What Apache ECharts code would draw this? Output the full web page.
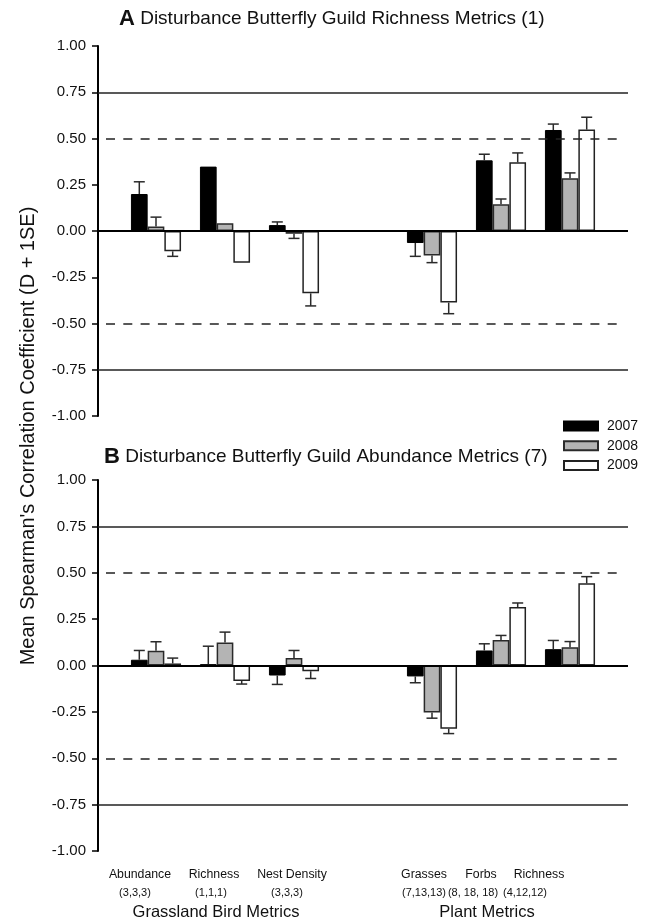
<!DOCTYPE html>
<html>
<head>
<meta charset="utf-8">
<script src="https://cdn.jsdelivr.net/npm/echarts@6/dist/echarts.min.js"></script>
<style>html,body{margin:0;padding:0;background:#fff}#c{width:647px;height:922px}</style>
</head>
<body>
<div id="c"></div>
<script>
// ---- data ----
var categories = ['Abundance\n(3,3,3)', 'Richness\n(1,1,1)', 'Nest Density\n(3,3,3)', '', 'Grasses\n(7,13,13)', 'Forbs\n(8, 18, 18)', 'Richness\n(4,12,12)'];
var groupLabels = ['', 'Grassland Bird Metrics', '', '', '', 'Plant Metrics', ''];
var years = ['2007', '2008', '2009'];
var refSolid = [0.75, -0.75];
var refDashed = [0.5, -0.5];

// Panel A: Richness metrics (mean D) and SE
var A_2007 = [0.200, 0.348, 0.032, null, -0.065, 0.382, 0.546];
var A_2008 = [0.025, 0.042, -0.015, null, -0.133, 0.144, 0.285];
var A_2009 = [-0.110, -0.171, -0.337, null, -0.387, 0.371, 0.548];
var A_2007_se = [0.066, 0, 0.017, null, 0.072, 0.033, 0.032];
var A_2008_se = [0.050, 0, 0.025, null, 0.038, 0.029, 0.029];
var A_2009_se = [0.027, 0, 0.068, null, 0.060, 0.051, 0.067];

// Panel B: Abundance metrics (mean D) and SE
var B_2007 = [0.031, 0.007, -0.054, null, -0.059, 0.081, 0.088];
var B_2008 = [0.079, 0.124, 0.040, null, -0.253, 0.137, 0.099];
var B_2009 = [0.011, -0.083, -0.031, null, -0.341, 0.315, 0.443];
var B_2007_se = [0.050, 0.097, 0.048, null, 0.034, 0.036, 0.047];
var B_2008_se = [0.049, 0.056, 0.041, null, 0.031, 0.025, 0.030];
var B_2009_se = [0.029, 0.017, 0.039, null, 0.026, 0.022, 0.036];

// ---- styling ----
var FONT = 'Liberation Sans, Arial, sans-serif';
var BAR_W = 16.7;
var DASH_END = 0.981; // dashed reference lines stop a little short of the solid ones
var barStyles = [
  {color: '#000000', borderColor: '#000000', borderWidth: 1},
  {color: '#b4b4b4', borderColor: '#2a2a2a', borderWidth: 1.5},
  {color: '#ffffff', borderColor: '#222222', borderWidth: 1.5}
];
// horizontal nudges (px, negative = left) of the hand-placed x labels
var nudgeLine1 = [-16, -11, -2, 0, -8, -20, -31];
var nudgeLine2 = [-21, -14, -7, 0, -8, -28, -45];
var nudgeGroup = [0, -9, 0, 0, 0, -14, 0];

function padFor(n) { return n < 0 ? [0, -2 * n, 0, 0] : [0, 0, 0, 2 * n]; }

var catRich = {};
categories.forEach(function (c, i) {
  catRich['a' + i] = {fontSize: 12.3, color: '#111', fontFamily: FONT, lineHeight: 18, padding: padFor(nudgeLine1[i])};
  catRich['b' + i] = {fontSize: 11, color: '#111', fontFamily: FONT, lineHeight: 18, padding: padFor(nudgeLine2[i])};
});
var grpRich = {};
groupLabels.forEach(function (c, i) {
  grpRich['g' + i] = {fontSize: 16.5, color: '#111', fontFamily: FONT, padding: padFor(nudgeGroup[i])};
});

var panels = [
  {top: 46, height: 370, vals: [A_2007, A_2008, A_2009], ses: [A_2007_se, A_2008_se, A_2009_se], labels: false},
  {top: 480, height: 371, vals: [B_2007, B_2008, B_2009], ses: [B_2007_se, B_2008_se, B_2009_se], labels: true}
];

var grid = [], xAxis = [], yAxis = [], series = [];

panels.forEach(function (p, k) {
  var gLine = grid.length;
  grid.push({left: 98, right: 19, top: p.top, height: p.height});
  var gBar = grid.length;
  grid.push({left: 121.5, width: 483, top: p.top, height: p.height});

  var xl = xAxis.length;
  xAxis.push({gridIndex: gLine, type: 'value', min: 0, max: 1, show: false});
  var yl = yAxis.length;
  yAxis.push({
    gridIndex: gLine, type: 'value', min: -1, max: 1, interval: 0.25,
    axisLine: {show: true, onZero: false, lineStyle: {color: '#000', width: 2}},
    axisTick: {show: true, inside: false, length: 6, lineStyle: {color: '#000', width: 1.5}},
    axisLabel: {color: '#111', fontSize: 15, fontFamily: FONT, margin: 12,
      formatter: function (v) { return v.toFixed(2); }},
    splitLine: {show: false}
  });

  var mlData = [];
  refSolid.forEach(function (v) { mlData.push({yAxis: v, lineStyle: {type: 'solid', width: 1.5, color: '#222'}}); });
  refDashed.forEach(function (v) {
    mlData.push([
      {coord: [0, v], lineStyle: {type: [9, 8.3], dashOffset: 9.3, width: 1.5, color: '#222'}},
      {coord: [DASH_END, v]}
    ]);
  });
  mlData.push({yAxis: 0, lineStyle: {type: 'solid', width: 2, color: '#000'}});
  series.push({
    type: 'line', xAxisIndex: xl, yAxisIndex: yl, data: [], silent: true, z: 1,
    markLine: {silent: true, symbol: 'none', label: {show: false}, animation: false, data: mlData}
  });

  var xb = xAxis.length;
  xAxis.push({
    gridIndex: gBar, type: 'category', data: categories,
    axisLine: {show: false}, axisTick: {show: false},
    axisLabel: {show: p.labels, interval: 0, margin: 15, rich: catRich,
      formatter: function (v, i) {
        if (!v) return '';
        var parts = v.split('\n');
        return '{a' + i + '|' + parts[0] + '}\n{b' + i + '|' + parts[1] + '}';
      }}
  });
  if (p.labels) {
    xAxis.push({
      gridIndex: gBar, type: 'category', data: groupLabels, position: 'bottom',
      axisLine: {show: false}, axisTick: {show: false},
      axisLabel: {show: true, interval: 0, margin: 53, rich: grpRich,
        formatter: function (v, i) { return v ? '{g' + i + '|' + v + '}' : ''; }}
    });
  }
  var yb = yAxis.length;
  yAxis.push({gridIndex: gBar, type: 'value', min: -1, max: 1, interval: 0.25, show: false, splitLine: {show: false}});

  years.forEach(function (yr, s) {
    series.push({
      name: yr, type: 'bar', xAxisIndex: xb, yAxisIndex: yb,
      data: p.vals[s], barWidth: BAR_W, barGap: '0%', z: 3,
      itemStyle: barStyles[s], animation: false
    });
  });

  var errData = [];
  years.forEach(function (yr, s) {
    p.vals[s].forEach(function (v, i) {
      if (v !== null && p.ses[s][i] > 0) errData.push([i, v, p.ses[s][i], s]);
    });
  });
  series.push({
    type: 'custom', xAxisIndex: xb, yAxisIndex: yb, z: 4, silent: true, animation: false,
    encode: {x: 0, y: 1},
    data: errData,
    renderItem: function (params, api) {
      var v = api.value(1), se = api.value(2), s = api.value(3);
      var sign = v < 0 ? -1 : 1;
      var a = api.coord([api.value(0), v]);
      var b = api.coord([api.value(0), v + sign * se]);
      var x = a[0] + (s - 1) * BAR_W;
      var st = {stroke: '#2a2a2a', lineWidth: 1.5};
      return {type: 'group', children: [
        {type: 'line', shape: {x1: x, y1: a[1], x2: x, y2: b[1]}, style: st},
        {type: 'line', shape: {x1: x - 5.5, y1: b[1], x2: x + 5.5, y2: b[1]}, style: st}
      ]};
    }
  });
});

// spanning grid carrying the shared y-axis title
var gName = grid.length;
grid.push({left: 98, right: 19, top: 46, bottom: 96});
xAxis.push({gridIndex: gName, type: 'value', show: false, min: 0, max: 1});
yAxis.push({gridIndex: gName, type: 'value', min: 0, max: 1,
  name: "Mean Spearman's Correlation Coefficient (D + 1SE)", nameLocation: 'middle', nameGap: 60,
  nameTextStyle: {fontSize: 20, color: '#111', fontFamily: FONT},
  axisLine: {show: false}, axisTick: {show: false}, axisLabel: {show: false}, splitLine: {show: false}});

var chart = echarts.init(document.getElementById('c'), null, {renderer: 'canvas'});
chart.setOption({
  backgroundColor: '#fff',
  animation: false,
  textStyle: {fontFamily: FONT},
  title: [
    {text: '{a|A} Disturbance Butterfly Guild Richness Metrics (1)', left: 119, top: 8, padding: 0,
      textStyle: {fontSize: 19, fontWeight: 'normal', color: '#111', fontFamily: FONT,
        rich: {a: {fontSize: 22, fontWeight: 'bold', color: '#111', fontFamily: FONT}}}},
    {text: '{a|B} Disturbance Butterfly Guild Abundance Metrics (7)', left: 104, top: 446, padding: 0,
      textStyle: {fontSize: 19, fontWeight: 'normal', color: '#111', fontFamily: FONT,
        rich: {a: {fontSize: 22, fontWeight: 'bold', color: '#111', fontFamily: FONT}}}}
  ],
  legend: {
    data: years, orient: 'vertical', left: 563, top: 419, padding: 0,
    itemWidth: 34, itemHeight: 9, itemGap: 5.7, icon: 'rect',
    textStyle: {fontSize: 14, color: '#111', fontFamily: FONT, padding: [0, 0, 0, 4]}, selectedMode: false
  },
  grid: grid, xAxis: xAxis, yAxis: yAxis, series: series
});
</script>
</body>
</html>
